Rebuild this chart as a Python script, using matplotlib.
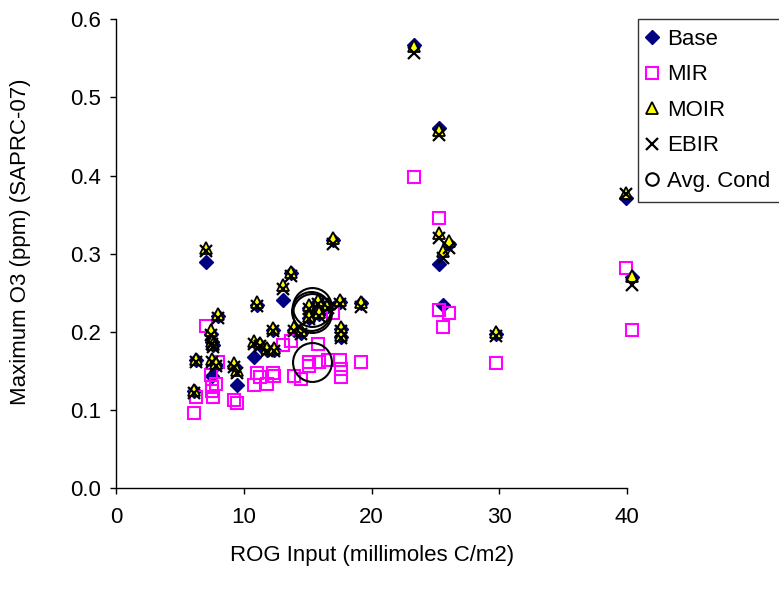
import matplotlib.pyplot as plt
from matplotlib.lines import Line2D

plt.rcParams['font.family'] = ['Liberation Sans', 'DejaVu Sans']

# ROG input per scenario (millimoles C/m2)
rog = [6.1, 6.25, 7.03, 7.45, 7.5, 7.6, 7.5, 7.8, 8.0, 9.25,
       9.5, 10.8, 11.0, 11.3, 11.85, 12.25, 12.4, 13.05, 13.7, 13.95,
       14.5, 15.1, 15.1, 15.8, 15.9, 16.55, 17.0, 17.5, 17.6, 17.6,
       19.2, 23.35, 25.3, 25.3, 26.05, 25.6, 29.75, 39.9, 40.4]

# maximum O3 (ppm) for each scenario under each case
base_o3 = [0.124, 0.164, 0.290, 0.198, 0.187, 0.183, 0.143, 0.158, 0.220, 0.157,
           0.132, 0.168, 0.235, 0.183, 0.177, 0.203, 0.177, 0.241, 0.275, 0.203,
           0.199, 0.231, 0.218, 0.238, 0.223, 0.233, 0.318, 0.238, 0.204, 0.194,
           0.237, 0.567, 0.461, 0.287, 0.313, 0.234, 0.198, 0.372, 0.270]
mir_o3 = [0.096, 0.117, 0.208, 0.145, 0.130, 0.117, 0.125, 0.134, 0.162, 0.113,
          0.109, 0.132, 0.147, 0.142, 0.134, 0.147, 0.144, 0.183, 0.189, 0.144,
          0.140, 0.161, 0.157, 0.185, 0.161, 0.164, 0.224, 0.164, 0.153, 0.142,
          0.161, 0.398, 0.346, 0.228, 0.224, 0.206, 0.160, 0.282, 0.203]
moir_o3 = [0.126, 0.166, 0.308, 0.202, 0.189, 0.185, 0.166, 0.160, 0.223, 0.160,
           0.151, 0.189, 0.238, 0.186, 0.179, 0.205, 0.179, 0.260, 0.277, 0.206,
           0.202, 0.234, 0.221, 0.241, 0.226, 0.236, 0.320, 0.241, 0.206, 0.196,
           0.238, 0.566, 0.459, 0.326, 0.316, 0.303, 0.200, 0.378, 0.272]
ebir_o3 = [0.122, 0.162, 0.303, 0.196, 0.185, 0.181, 0.162, 0.157, 0.218, 0.155,
           0.148, 0.185, 0.233, 0.182, 0.175, 0.201, 0.175, 0.255, 0.272, 0.201,
           0.197, 0.229, 0.216, 0.236, 0.221, 0.231, 0.313, 0.236, 0.201, 0.192,
           0.232, 0.557, 0.452, 0.320, 0.308, 0.295, 0.195, 0.376, 0.260]

# averaged conditions (Base, MIR, MOIR, EBIR)
avg_rog = [15.25, 15.3, 15.35, 15.3]
avg_o3 = [0.227, 0.161, 0.232, 0.224]

FS = 16

fig = plt.figure(figsize=(7.79, 5.94), dpi=100)
ax = fig.add_axes([0.149, 0.178, 0.656, 0.7895])

ax.plot(rog, base_o3, ls='none', marker='D', ms=7.5, mfc='#000080', mec='#000080',
        clip_on=False, zorder=3)
ax.plot(rog, mir_o3, ls='none', marker='s', ms=9, mfc='none', mec='#FF00FF', mew=1.5,
        clip_on=False, zorder=4)
ax.plot(rog, moir_o3, ls='none', marker='^', ms=9, mfc='#FFFF00', mec='black', mew=1.3,
        clip_on=False, zorder=5)
ax.plot(rog, ebir_o3, ls='none', marker='x', ms=8, mec='black', mew=1.6,
        clip_on=False, zorder=6)
ax.plot(avg_rog, avg_o3, ls='none', marker='o', ms=28, mfc='none', mec='black', mew=1.5,
        clip_on=False, zorder=7)

ax.set_xlim(0, 40)
ax.set_ylim(0, 0.6)
ax.set_xticks([0, 10, 20, 30, 40])
ax.set_yticks([0.0, 0.1, 0.2, 0.3, 0.4, 0.5, 0.6])
ax.set_yticklabels([f"{v:.1f}" for v in ax.get_yticks()])
ax.tick_params(labelsize=FS, length=4.5, width=1, color='black')
ax.tick_params(axis='x', pad=9)
ax.tick_params(axis='y', pad=6)

for side in ('top', 'right'):
    ax.spines[side].set_visible(False)
for side in ('left', 'bottom'):
    ax.spines[side].set_linewidth(1)

ax.set_xlabel("ROG Input (millimoles C/m2)", fontsize=FS)
ax.set_ylabel("Maximum O3 (ppm) (SAPRC-07)", fontsize=FS)
ax.xaxis.set_label_coords(0.5, -0.122)
ax.yaxis.set_label_coords(-0.166, 0.525)

handles = [
    Line2D([], [], ls='none', marker='D', ms=7.5, mfc='#000080', mec='#000080'),
    Line2D([], [], ls='none', marker='s', ms=9, mfc='none', mec='#FF00FF', mew=1.5),
    Line2D([], [], ls='none', marker='^', ms=9, mfc='#FFFF00', mec='black', mew=1.3),
    Line2D([], [], ls='none', marker='x', ms=8, mec='black', mew=1.6),
    Line2D([], [], ls='none', marker='o', ms=9, mfc='none', mec='black', mew=1.5),
]
labels = ["Base", "MIR", "MOIR", "EBIR", "Avg. Cond"]
leg = fig.legend(handles, labels, loc='upper left', bbox_to_anchor=(0.819, 0.968),
                 fontsize=FS, frameon=True, fancybox=False, edgecolor='black',
                 handlelength=0.4, handletextpad=0.45, labelspacing=0.65,
                 borderpad=0.45, borderaxespad=0)
leg.get_frame().set_linewidth(1)

fig.savefig("out.png", dpi=100)
